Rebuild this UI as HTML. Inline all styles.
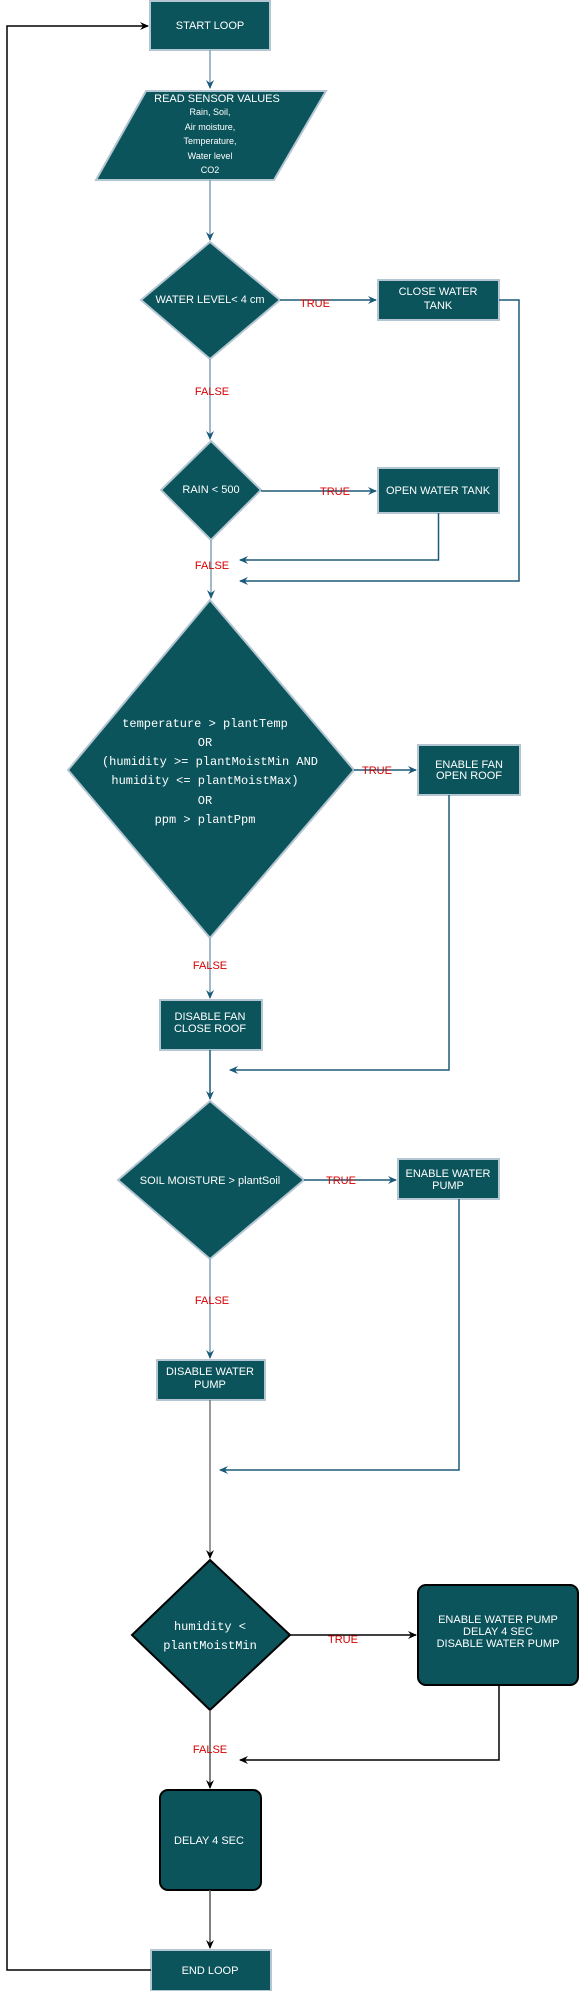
<!DOCTYPE html>
<html><head><meta charset="utf-8"><style>
html,body{margin:0;padding:0;background:#fff;}
svg{display:block;}
text{font-family:"Liberation Sans",sans-serif;fill:#fff;}
.m text{font-family:"Liberation Mono",monospace;}
.r text{fill:#d40000;font-size:11px;}
</style></head><body>
<svg width="579" height="1991" viewBox="0 0 579 1991" xmlns="http://www.w3.org/2000/svg">
<defs>
<marker id="ab" markerWidth="10" markerHeight="10" refX="8" refY="5" orient="auto" markerUnits="userSpaceOnUse"><path d="M0,1 L9,5 L0,9 L3,5 Z" fill="#1b5a78"/></marker>
<marker id="ak" markerWidth="10" markerHeight="10" refX="8" refY="5" orient="auto" markerUnits="userSpaceOnUse"><path d="M0,1 L9,5 L0,9 L3,5 Z" fill="#000"/></marker>
</defs>
<g fill="#0b545b" stroke="#b4c6d2" stroke-width="2">
<rect x="150" y="1" width="120" height="49"/>
<polygon points="146,91 326,91 274,180 96,180"/>
<polygon points="210,242 280,300 210,359 141,300"/>
<rect x="378" y="280" width="121" height="40"/>
<polygon points="211,441 261,490 211,540 161,490"/>
<rect x="378" y="468" width="121" height="45"/>
<polygon points="210,600 354,770 210,938 68,770"/>
<rect x="418" y="745" width="102" height="50"/>
<rect x="160" y="1000" width="102" height="50"/>
<polygon points="210,1101 304,1180 210,1259 118,1180"/>
<rect x="398" y="1159" width="101" height="40"/>
<rect x="157" y="1360" width="108" height="40"/>
<rect x="151" y="1950" width="120" height="41"/>
</g>
<g fill="#0b545b" stroke="#000" stroke-width="2">
<polygon points="210,1560 290,1635 210,1710 132,1635"/>
<rect x="418" y="1585" width="160" height="100" rx="8"/>
<rect x="160" y="1790" width="101" height="100" rx="8"/>
</g>
<g fill="none" stroke-width="1.5">
<path d="M210,50 V88" stroke="#7fa2b6" marker-end="url(#ab)"/>
<path d="M210,180 V240" stroke="#7fa2b6" marker-end="url(#ab)"/>
<path d="M210,359 V439" stroke="#7fa2b6" marker-end="url(#ab)"/>
<path d="M211,540 V598" stroke="#7fa2b6" marker-end="url(#ab)"/>
<path d="M210,938 V998" stroke="#7fa2b6" marker-end="url(#ab)"/>
<path d="M210,1050 V1099" stroke="#1b5a78" marker-end="url(#ab)"/>
<path d="M210,1259 V1358" stroke="#7fa2b6" marker-end="url(#ab)"/>
<path d="M280,300 H376" stroke="#1b5a78" marker-end="url(#ab)"/>
<path d="M499,300 H519 V581 H240" stroke="#1b5a78" marker-end="url(#ab)"/>
<path d="M261,491 H376" stroke="#1b5a78" marker-end="url(#ab)"/>
<path d="M438.5,513 V560 H240" stroke="#1b5a78" marker-end="url(#ab)"/>
<path d="M354,770 H416" stroke="#1b5a78" marker-end="url(#ab)"/>
<path d="M449,795 V1070 H230" stroke="#1b5a78" marker-end="url(#ab)"/>
<path d="M304,1180 H396" stroke="#1b5a78" marker-end="url(#ab)"/>
<path d="M459,1199 V1470 H220" stroke="#1b5a78" marker-end="url(#ab)"/>
<path d="M210,1400 V1558" stroke="#777" marker-end="url(#ak)"/>
<path d="M290,1635 H416" stroke="#000" marker-end="url(#ak)"/>
<path d="M499,1685 V1760 H240" stroke="#000" marker-end="url(#ak)"/>
<path d="M210,1710 V1788" stroke="#555" marker-end="url(#ak)"/>
<path d="M210,1890 V1948" stroke="#555" marker-end="url(#ak)"/>
<path d="M151,1970 H7 V26 H148" stroke="#000" marker-end="url(#ak)"/>
</g>
<g text-anchor="middle" font-size="11">
<text x="210" y="29">START LOOP</text>
<text x="217" y="102">READ SENSOR VALUES</text>
<g font-size="9"><text x="210" y="115">Rain, Soil,</text><text x="210" y="130">Air moisture,</text><text x="210" y="144">Temperature,</text><text x="210" y="159">Water level</text><text x="210" y="173">CO2</text></g>
<text x="210" y="303">WATER LEVEL&lt; 4 cm</text>
<text x="438" y="295">CLOSE WATER</text><text x="438" y="309">TANK</text>
<text x="211" y="493">RAIN &lt; 500</text>
<text x="438" y="494">OPEN WATER TANK</text>
<g class="m" font-size="12"><text x="205" y="727">temperature &gt; plantTemp</text><text x="205" y="746">OR</text><text x="210" y="765">(humidity &gt;= plantMoistMin AND</text><text x="205" y="784">humidity &lt;= plantMoistMax)</text><text x="205" y="804">OR</text><text x="205" y="823">ppm &gt; plantPpm</text></g>
<text x="469" y="768">ENABLE FAN</text><text x="469" y="779">OPEN ROOF</text>
<text x="210" y="1020">DISABLE FAN</text><text x="210" y="1032">CLOSE ROOF</text>
<text x="210" y="1184">SOIL MOISTURE &gt; plantSoil</text>
<text x="448" y="1177">ENABLE WATER</text><text x="448" y="1189">PUMP</text>
<text x="210" y="1375">DISABLE WATER</text><text x="210" y="1388">PUMP</text>
<g class="m" font-size="12"><text x="210" y="1630">humidity &lt;</text><text x="210" y="1649">plantMoistMin</text></g>
<text x="498" y="1623">ENABLE WATER PUMP</text><text x="498" y="1635">DELAY 4 SEC</text><text x="498" y="1647">DISABLE WATER PUMP</text>
<text x="209" y="1844">DELAY 4 SEC</text>
<text x="210" y="1974">END LOOP</text>
<g class="r"><text x="315" y="307">TRUE</text><text x="212" y="395">FALSE</text><text x="335" y="495">TRUE</text><text x="212" y="569">FALSE</text><text x="377" y="774">TRUE</text><text x="210" y="969">FALSE</text><text x="341" y="1184">TRUE</text><text x="212" y="1304">FALSE</text><text x="343" y="1643">TRUE</text><text x="210" y="1753">FALSE</text></g>
</g>
</svg>
</body></html>
